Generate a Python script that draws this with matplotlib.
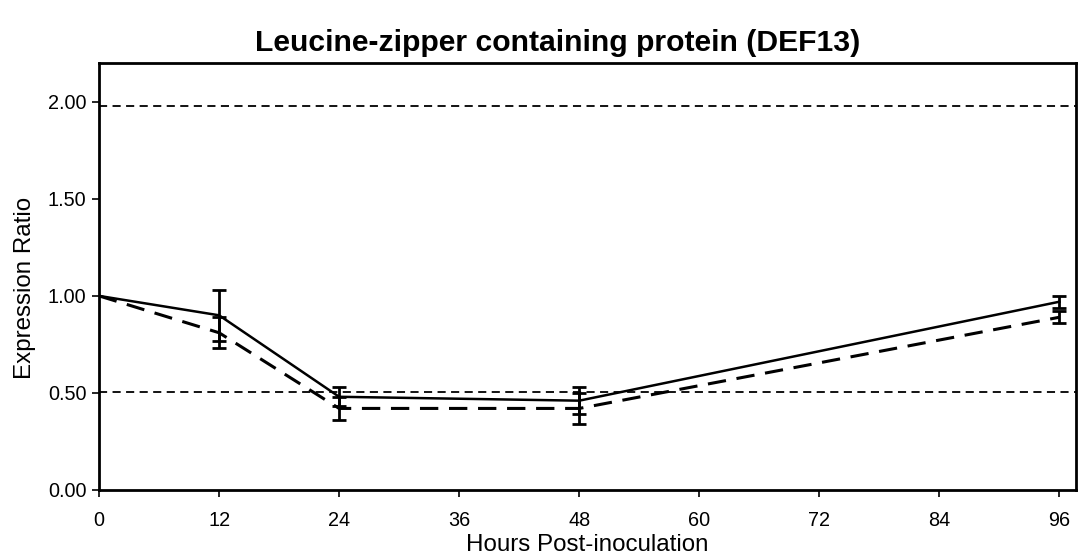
import matplotlib
matplotlib.use('Agg')
import matplotlib.pyplot as plt
import numpy as np

plt.rcParams['font.family'] = ['Liberation Sans', 'DejaVu Sans']

hours = [0, 12, 24, 48, 96]
ratio_solid = [1.00, 0.90, 0.48, 0.46, 0.97]
err_solid = [0.00, 0.13, 0.05, 0.07, 0.03]
ratio_dashed = [1.00, 0.81, 0.42, 0.42, 0.89]
err_dashed = [0.00, 0.08, 0.06, 0.08, 0.03]
threshold_hi = 1.977
threshold_lo = 1 / 1.977

x_ticks = [0, 12, 24, 36, 48, 60, 72, 84, 96]
y_ticks = [0.0, 0.5, 1.0, 1.5, 2.0]

fig = plt.figure(figsize=(10.8, 5.58), dpi=100)
ax = fig.add_axes([0.0917, 0.122, 0.905, 0.765])

# fold-change thresholds
ax.axhline(threshold_hi, color='black', lw=1.3, linestyle=(0, (4.5, 3)))
ax.axhline(threshold_lo, color='black', lw=1.3, linestyle=(0, (4.5, 3)))

ax.plot(hours, ratio_solid, color='black', lw=1.8)
ax.plot(hours, ratio_dashed, color='black', lw=2.2, linestyle=(0, (6, 3.5)))

yerr_s = np.array(err_solid)
yerr_d = np.array(err_dashed)
ax.errorbar(hours[1:], ratio_solid[1:], yerr=yerr_s[1:], fmt='none', ecolor='black',
            elinewidth=2, capsize=5, capthick=2)
ax.errorbar(hours[1:], ratio_dashed[1:], yerr=yerr_d[1:], fmt='none', ecolor='black',
            elinewidth=2, capsize=5, capthick=2)

ax.set_xlim(0, 97.7)
ax.set_ylim(0, 2.2)
ax.set_xticks(x_ticks)
ax.set_yticks(y_ticks)
ax.set_yticklabels(['%.2f' % v for v in y_ticks])
ax.tick_params(direction='out', length=5, width=1.2, labelsize=14.3)
ax.tick_params(axis='x', pad=10)
ax.tick_params(axis='y', pad=4)
for s in ax.spines.values():
    s.set_linewidth(2)

ax.set_xlabel('Hours Post-inoculation', fontsize=17.4, labelpad=3)
ax.set_ylabel('Expression Ratio', fontsize=17.4)
ax.yaxis.set_label_coords(-0.065, 0.473)
fig.text(0.516, 0.909, 'Leucine-zipper containing protein (DEF13)', fontsize=21.7,
         fontweight='bold', ha='center', va='baseline')

fig.savefig('out.png', dpi=100)
